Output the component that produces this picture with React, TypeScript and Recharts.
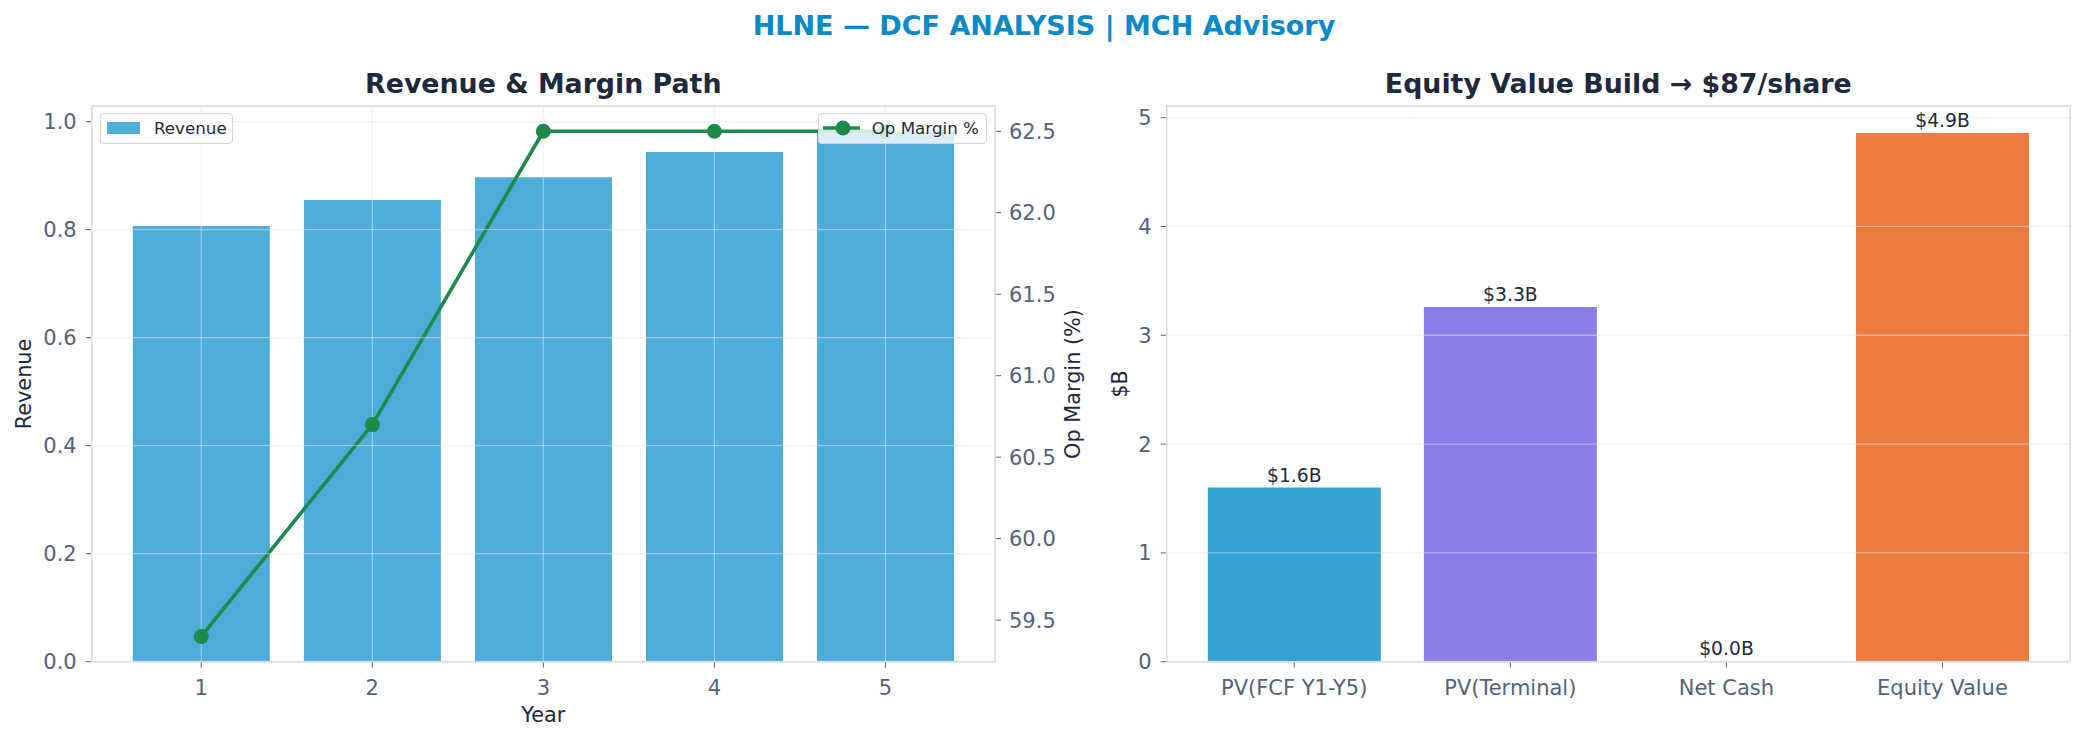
import React from 'react'
import { ComposedChart, BarChart, Bar, Line, XAxis, YAxis, CartesianGrid, LabelList, Cell } from 'recharts'

// left panel: revenue bars + op margin line
const years = ['1', '2', '3', '4', '5']
const revenue = [0.807, 0.855, 0.897, 0.944, 0.981]
const opMargin = [59.4, 60.7, 62.5, 62.5, 62.5]
const revenueTicks = [0, 0.2, 0.4, 0.6, 0.8, 1.0]
const marginTicks = [59.5, 60.0, 60.5, 61.0, 61.5, 62.0, 62.5]

// right panel: equity value build
const buildLabels = ['PV(FCF Y1-Y5)', 'PV(Terminal)', 'Net Cash', 'Equity Value']
const buildValues = [1.6, 3.26, 0.007, 4.86]
const buildColors = ['#33a3d4', '#8a7fea', '#7fb3b0', '#ec7b40']
const buildTicks = [0, 1, 2, 3, 4, 5]

const pathData = years.map((year, i) => ({ year, revenue: revenue[i], margin: opMargin[i] }))
const buildData = buildLabels.map((name, i) => ({ name, value: buildValues[i] }))

const FONT = '"DejaVu Sans", sans-serif'
const TICK_COLOR = '#526278'
const DARK = '#1e2a3b'
const SPINE = '#d5dce6'
const GREEN = '#1b8a4a'

const tickStyle = { fill: TICK_COLOR, fontSize: 21, fontFamily: FONT }
const gridProps = { stroke: '#e2e8f0', strokeOpacity: 0.5, strokeWidth: 1.3 }

function RevenueMarginChart() {
  return (
    <ComposedChart
      width={1100}
      height={742}
      data={pathData}
      margin={{ top: 106, right: 0, bottom: 0, left: 0 }}
      barCategoryGap="10%"
    >
      <XAxis
        dataKey="year"
        height={80.3}
        padding={{ left: 24, right: 24 }}
        tick={tickStyle}
        tickSize={6}
        tickMargin={12}
        tickLine={{ stroke: TICK_COLOR }}
        axisLine={false}
      />
      <YAxis
        yAxisId="rev"
        width={91.7}
        type="number"
        domain={[0, 1.029]}
        allowDataOverflow
        ticks={revenueTicks}
        tickFormatter={(v) => v.toFixed(1)}
        tick={tickStyle}
        tickSize={6}
        tickMargin={9}
        tickLine={{ stroke: TICK_COLOR }}
        axisLine={false}
      />
      <YAxis
        yAxisId="margin"
        orientation="right"
        width={105}
        type="number"
        domain={[59.245, 62.655]}
        allowDataOverflow
        ticks={marginTicks}
        tickFormatter={(v) => v.toFixed(1)}
        tick={tickStyle}
        tickSize={6}
        tickMargin={8}
        tickLine={{ stroke: TICK_COLOR }}
        axisLine={false}
      />
      <Bar yAxisId="rev" dataKey="revenue" fill="#4dacd8" isAnimationActive={false} />
      <CartesianGrid yAxisId="rev" {...gridProps} zIndex={600} />
      <Line
        yAxisId="margin"
        dataKey="margin"
        type="linear"
        stroke={GREEN}
        strokeWidth={3.6}
        dot={{ r: 7.5, fill: GREEN, stroke: 'none' }}
        activeDot={false}
        isAnimationActive={false}
      />
    </ComposedChart>
  )
}

function EquityBuildChart() {
  return (
    <BarChart
      width={995}
      height={742}
      data={buildData}
      margin={{ top: 106, right: 15, bottom: 0, left: 0 }}
      barCategoryGap="10%"
    >
      <XAxis
        dataKey="name"
        height={80.3}
        padding={{ left: 19.5, right: 19.5 }}
        tick={tickStyle}
        tickSize={6}
        tickMargin={12}
        tickLine={{ stroke: TICK_COLOR }}
        axisLine={false}
        interval={0}
      />
      <YAxis
        width={76.7}
        type="number"
        domain={[0, 5.107]}
        allowDataOverflow
        ticks={buildTicks}
        tick={tickStyle}
        tickSize={6}
        tickMargin={9}
        tickLine={{ stroke: TICK_COLOR }}
        axisLine={false}
      />
      <Bar dataKey="value" isAnimationActive={false}>
        {buildData.map((d, i) => (
          <Cell key={d.name} fill={buildColors[i]} />
        ))}
        <LabelList
          dataKey="value"
          position="top"
          offset={6}
          formatter={(v: number) => `$${v.toFixed(1)}B`}
          style={{ fill: DARK, fontSize: 18.75, fontFamily: FONT }}
        />
      </Bar>
      <CartesianGrid vertical={false} {...gridProps} zIndex={600} />
    </BarChart>
  )
}

export default function App() {
  return (
    <div
      style={{
        position: 'absolute',
        left: 0,
        top: 0,
        width: 2085,
        height: 742,
        background: '#ffffff',
        overflow: 'hidden',
        fontFamily: FONT,
      }}
    >
      <div style={{ position: 'absolute', left: 0, top: 0 }}>
        <RevenueMarginChart />
      </div>
      <div style={{ position: 'absolute', left: 1090, top: 0 }}>
        <EquityBuildChart />
      </div>

      <svg width={2085} height={742} style={{ position: 'absolute', left: 0, top: 0, pointerEvents: 'none' }}>
        <text x={1044} y={35} textAnchor="middle" fontSize={27} fontWeight="bold" fill="#0a89c9" fontFamily={FONT}>
          HLNE — DCF ANALYSIS | MCH Advisory
        </text>
        <text x={543.3} y={93} textAnchor="middle" fontSize={26.8} fontWeight="bold" fill={DARK} fontFamily={FONT}>
          Revenue &amp; Margin Path
        </text>
        <text x={1618.3} y={93} textAnchor="middle" fontSize={26.8} fontWeight="bold" fill={DARK} fontFamily={FONT}>
          Equity Value Build → $87/share
        </text>

        <rect x={91.7} y={106} width={903.3} height={555.7} fill="none" stroke={SPINE} strokeWidth={1.6} />
        <rect x={1166.7} y={106} width={903.3} height={555.7} fill="none" stroke={SPINE} strokeWidth={1.6} />

        <text x={543.3} y={715} textAnchor="middle" dominantBaseline="central" fontSize={20.8} fill={DARK} fontFamily={FONT}>
          Year
        </text>
        <text
          transform="translate(24,384) rotate(-90)"
          textAnchor="middle"
          dominantBaseline="central"
          fontSize={20.8}
          fill={DARK}
          fontFamily={FONT}
        >
          Revenue
        </text>
        <text
          transform="translate(1073,384) rotate(-90)"
          textAnchor="middle"
          dominantBaseline="central"
          fontSize={20.8}
          fill={DARK}
          fontFamily={FONT}
        >
          Op Margin (%)
        </text>
        <text
          transform="translate(1120,384) rotate(-90)"
          textAnchor="middle"
          dominantBaseline="central"
          fontSize={20.8}
          fill={DARK}
          fontFamily={FONT}
        >
          $B
        </text>
      </svg>

      {/* legends */}
      <div
        style={{
          position: 'absolute',
          left: 100,
          top: 113,
          width: 133,
          height: 31,
          boxSizing: 'border-box',
          border: '1.5px solid #d0d5dc',
          borderRadius: 4,
          background: 'rgba(255,255,255,0.8)',
        }}
      >
        <div style={{ position: 'absolute', left: 6, top: 8, width: 33, height: 12, background: '#4dacd8' }} />
        <div style={{ position: 'absolute', left: 53, top: 3, fontSize: 16.7, lineHeight: '22px', color: DARK }}>Revenue</div>
      </div>
      <div
        style={{
          position: 'absolute',
          left: 817.7,
          top: 113,
          width: 169,
          height: 31,
          boxSizing: 'border-box',
          border: '1.5px solid #d0d5dc',
          borderRadius: 4,
          background: 'rgba(255,255,255,0.8)',
        }}
      >
        <svg width={50} height={28} style={{ position: 'absolute', left: 0, top: 0 }}>
          <line x1={4} x2={41} y1={14} y2={14} stroke={GREEN} strokeWidth={3.6} />
          <circle cx={24} cy={14} r={7.5} fill={GREEN} />
        </svg>
        <div style={{ position: 'absolute', left: 53, top: 3, fontSize: 16.7, lineHeight: '22px', color: DARK }}>Op Margin %</div>
      </div>
    </div>
  )
}
